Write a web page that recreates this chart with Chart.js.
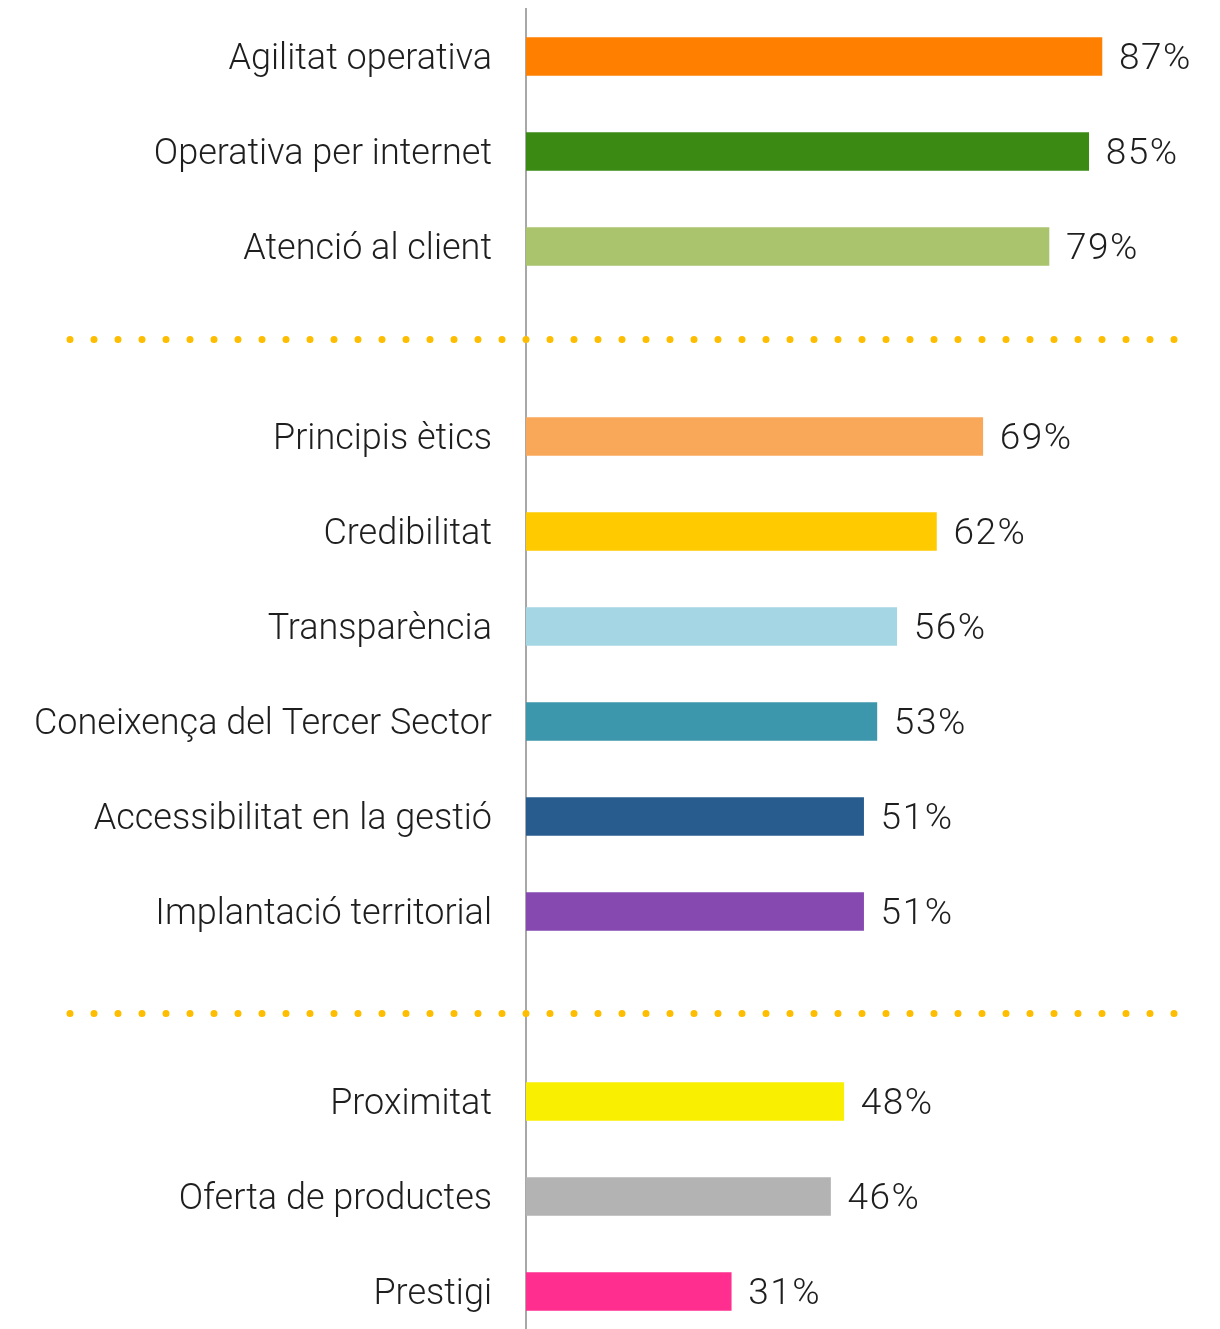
<!DOCTYPE html>
<html>
<head>
<meta charset="utf-8">
<script src="https://cdn.jsdelivr.net/npm/chart.js@4/dist/chart.umd.min.js"></script>
<style>
    html, body {
        margin: 0;
        padding: 0;
        background: #FFFFFF;
        overflow: hidden;
    }
    .chart-box {
        position: relative;
        width: 1220px;
        height: 1340px;
    }
</style>
</head>
<body>
<div class="chart-box">
    <canvas id="barChart"></canvas>
</div>
<script>
// Kategorien ('' = Trennlinie zwischen den Gruppen)
const categories = [
    'Agilitat operativa',
    'Operativa per internet',
    'Atenció al client',
    '',
    'Principis ètics',
    'Credibilitat',
    'Transparència',
    'Coneixença del Tercer Sector',
    'Accessibilitat en la gestió',
    'Implantació territorial',
    '',
    'Proximitat',
    'Oferta de productes',
    'Prestigi'
];

const values = [87, 85, 79, null, 69, 62, 56, 53, 51, 51, null, 48, 46, 31];

const barColors = [
    '#FF7F00', '#3A8A14', '#A9C46C', null,
    '#F9A85A', '#FFCA00', '#A5D6E3', '#3D97AC', '#285C8E', '#8549AF', null,
    '#F8F000', '#B3B3B3', '#FF2E8F'
];

const FONT = "'Roboto', 'Liberation Sans', sans-serif";

// Prozentwerte rechts neben den Balken
const valueLabels = {
    id: 'valueLabels',
    afterDatasetsDraw(chart) {
        const ctx = chart.ctx;
        const meta = chart.getDatasetMeta(0);
        ctx.save();
        ctx.font = '300 37px ' + FONT;
        ctx.letterSpacing = '1.5px';
        ctx.fillStyle = '#1E1E1E';
        ctx.textAlign = 'left';
        ctx.textBaseline = 'middle';
        meta.data.forEach((bar, i) => {
            if (values[i] === null) return;
            ctx.fillText(values[i] + '%', bar.x + 17, bar.y + 3);
        });
        ctx.restore();
    }
};

// Gepunktete Trennlinien an den leeren Kategorien
const separators = {
    id: 'separators',
    afterDatasetsDraw(chart) {
        const ctx = chart.ctx;
        const yScale = chart.scales.y;
        ctx.save();
        ctx.strokeStyle = '#FDBE00';
        ctx.lineWidth = 7;
        ctx.lineCap = 'round';
        ctx.setLineDash([0, 24]);
        let n = 0;
        categories.forEach((c, i) => {
            if (c !== '') return;
            // zweite Linie sitzt im Original etwas tiefer
            const y = yScale.getPixelForValue(i) + (n === 0 ? -2 : 7);
            n++;
            ctx.beginPath();
            ctx.moveTo(70, y);
            ctx.lineTo(1180, y);
            ctx.stroke();
        });
        ctx.restore();
    }
};

new Chart(document.getElementById('barChart').getContext('2d'), {
    type: 'bar',
    data: {
        labels: categories,
        datasets: [{
            data: values,
            backgroundColor: barColors,
            barThickness: 38
        }]
    },
    options: {
        indexAxis: 'y',
        responsive: true,
        maintainAspectRatio: false,
        animation: false,
        layout: {
            padding: { top: 9, right: 32, bottom: 1, left: 0 }
        },
        plugins: {
            legend: { display: false },
            tooltip: { enabled: false }
        },
        scales: {
            x: {
                display: false,
                min: 0,
                max: 100
            },
            y: {
                grid: { display: false, drawTicks: false },
                border: { display: true, color: '#A8A8A8', width: 2 },
                ticks: {
                    color: '#1E1E1E',
                    font: { family: FONT, size: 36, weight: '300' },
                    padding: 34,
                    labelOffset: 3
                },
                afterFit(axis) {
                    axis.width = 526;
                    axis.paddingTop = 0;
                    axis.paddingBottom = 0;
                }
            }
        }
    },
    plugins: [valueLabels, separators]
});
</script>
</body>
</html>
